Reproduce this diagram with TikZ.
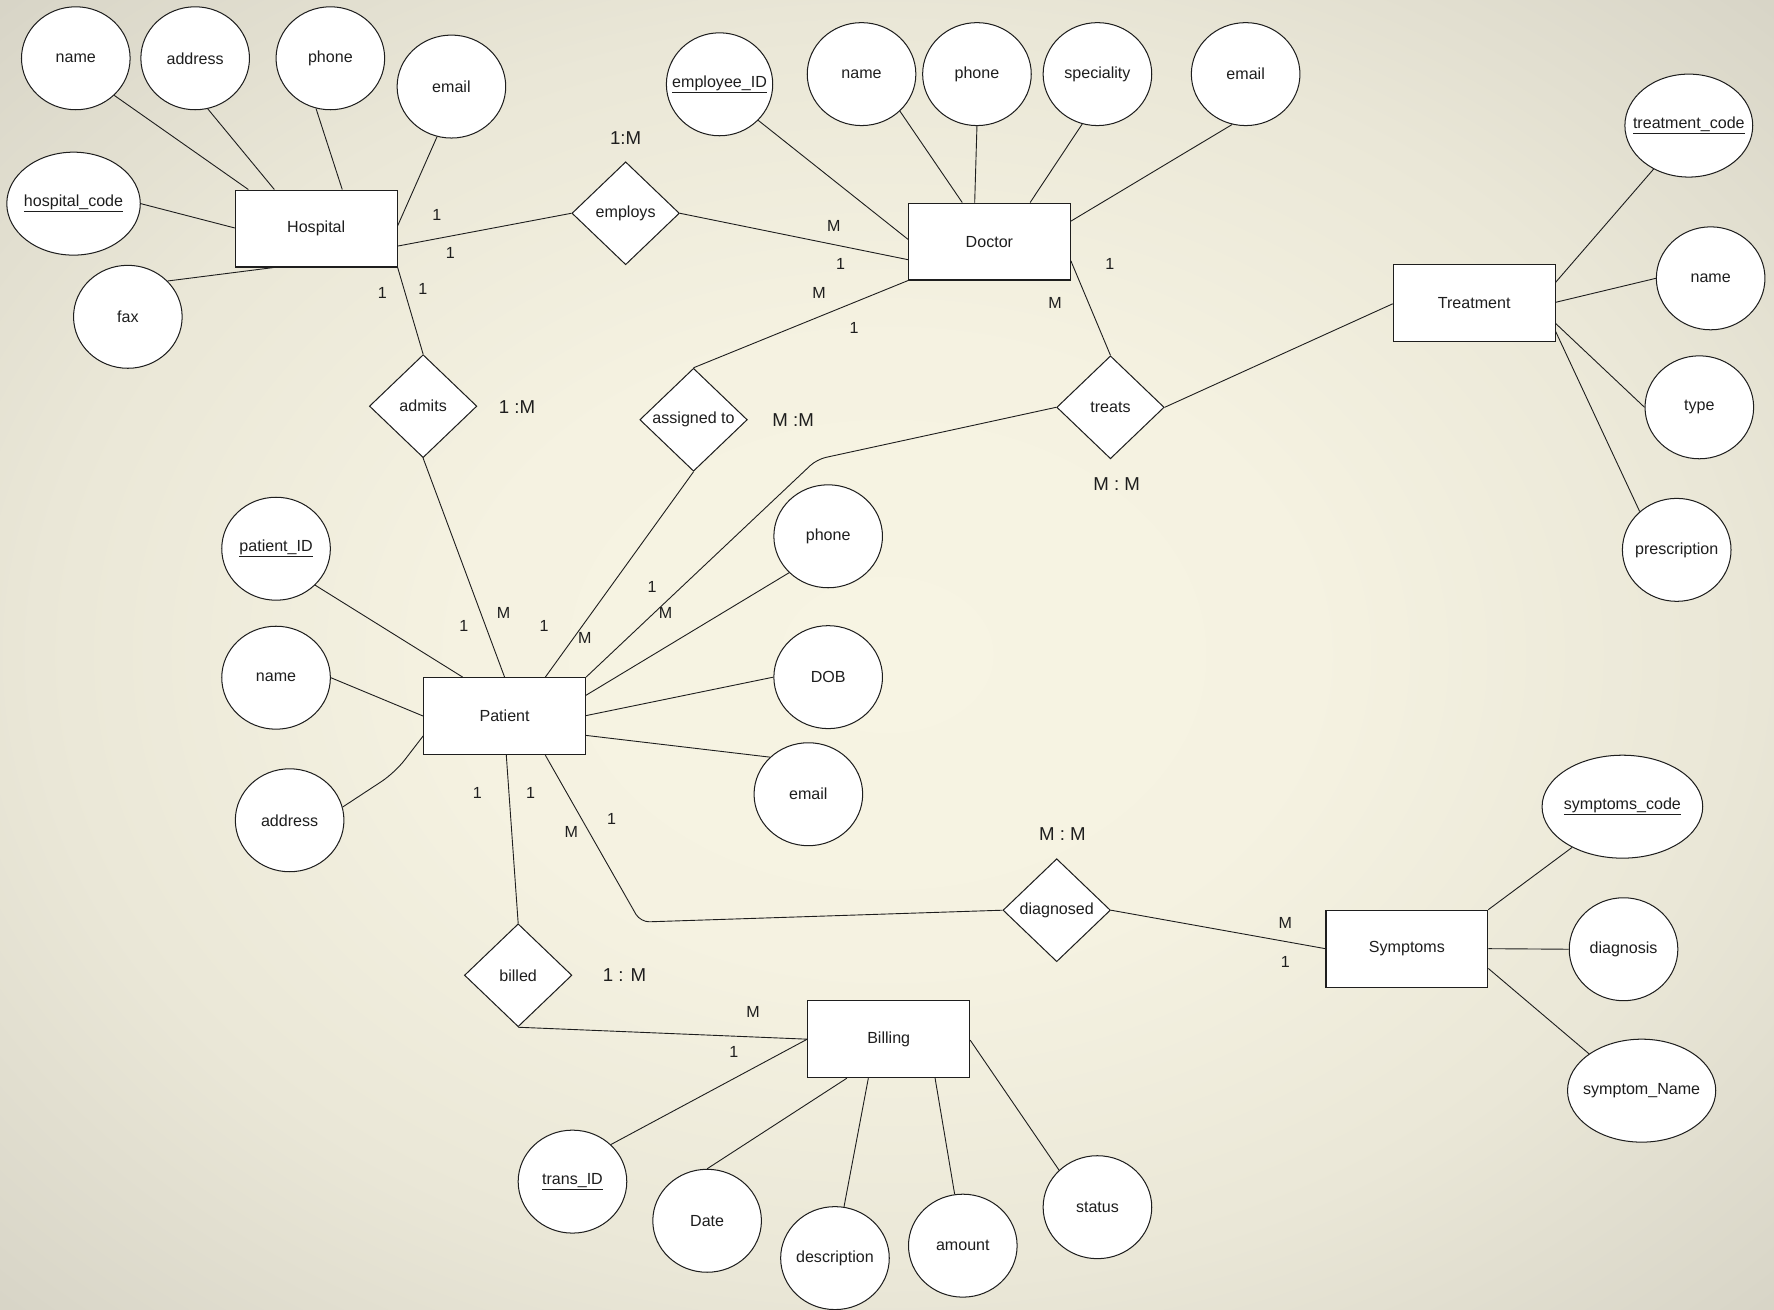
\documentclass[tikz,border=0pt]{standalone}
\usepackage{fontspec}
\setmainfont{Liberation Sans}
\usetikzlibrary{shapes.geometric,calc}
\definecolor{bgc0}{HTML}{F7F4E3}
\definecolor{bgc1}{HTML}{F5F2E1}
\definecolor{bgc2}{HTML}{EAE7D7}
\definecolor{bgc3}{HTML}{DAD7C9}
\definecolor{bgc4}{HTML}{CAC7BA}
\definecolor{bgc5}{HTML}{B9B6AA}
\definecolor{bgc6}{HTML}{A8A599}
\definecolor{bgc7}{HTML}{9C998D}
\definecolor{ink}{HTML}{1E1E1E}
\pgfdeclareradialshading{bgrad}{\pgfpoint{0bp}{0bp}}{color(0bp)=(bgc0); color(12bp)=(bgc1); color(24bp)=(bgc2); color(34bp)=(bgc3); color(43bp)=(bgc4); color(51bp)=(bgc5); color(61bp)=(bgc6); color(71bp)=(bgc7)}
\begin{document}
\begin{tikzpicture}[x=1pt,y=-1pt,
  every node/.style={font=\fontsize{14.2}{16}\selectfont, text=ink},
  ent/.style={draw=ink, line width=1pt, fill=white, rectangle, minimum width=143pt, minimum height=68pt, inner sep=0pt},
  attr/.style={draw=ink, line width=0.9pt, fill=white, ellipse, minimum width=96pt, minimum height=91pt, inner xsep=-14pt, inner ysep=0pt},
  rel/.style={draw=ink, line width=0.9pt, fill=white, diamond, minimum width=95pt, minimum height=91pt, inner sep=0pt},
  conn/.style={draw=ink, line width=0.8pt},
  card/.style={inner sep=0pt},
  ratio/.style={font=\fontsize{16.5}{18}\selectfont, inner sep=0pt}
]
\useasboundingbox (0,0) rectangle (1568,1157);
\shade[shading=bgrad] (0,0) rectangle (1568,1157);

% Entities
\node[ent] (hosp) at (279.5,202) {Hospital};
\node[ent] (doc) at (874.5,213.5) {Doctor};
\node[ent] (treat) at (1303,268) {Treatment};
\node[ent] (pat) at (446,633) {Patient};
\node[ent] (symp) at (1243.5,838.5) {Symptoms};
\node[ent] (bill) at (785.5,918.5) {Billing};

% Relationships
\node[rel] (employs) at (553,188.5) {employs};
\node[rel] (admits) at (374,359) {admits};
\node[rel] (assigned) at (613,371) {assigned to};
\node[rel] (treats) at (981.5,360) {treats};
\node[rel] (diagnosed) at (934,804.5) {diagnosed};
\node[rel] (billed) at (458,862) {billed};

% Hospital attributes
\node[attr] (hname) at (67,51.5) {name};
\node[attr] (haddr) at (172.5,51.5) {address};
\node[attr] (hphone) at (292,51.5) {phone};
\node[attr] (hemail) at (399,76.5) {email};
\node[attr, minimum width=118pt] (hcode) at (65,180) {\underline{hospital\_code}};
\node[attr] (hfax) at (113,280) {fax};

% Doctor attributes
\node[attr, minimum width=94pt] (empid) at (636,74.5) {\underline{employee\_ID}};
\node[attr] (dname) at (761.5,65.5) {name};
\node[attr] (dphone) at (863.5,65.5) {phone};
\node[attr] (spec) at (970,65.5) {speciality};
\node[attr] (demail) at (1101,65.5) {email};

% Treatment attributes
\node[attr, minimum width=113pt] (tcode) at (1492.7,111) {\underline{treatment\_code}};
\node[attr] (tname) at (1512,246) {name};
\node[attr] (ttype) at (1502,360) {type};
\node[attr] (presc) at (1482,486) {prescription};

% Patient attributes
\node[attr] (pid) at (244,485) {\underline{patient\_ID}};
\node[attr] (pname) at (244,599) {name};
\node[attr] (paddr) at (256,725) {address};
\node[attr] (pphone) at (732,474) {phone};
\node[attr] (dob) at (732,598.5) {DOB};
\node[attr] (pemail) at (714.5,702) {email};

% Symptoms attributes
\node[attr, minimum width=142pt] (scode) at (1434,713) {\underline{symptoms\_code}};
\node[attr] (diag) at (1435,839) {diagnosis};
\node[attr, minimum width=131pt] (sname) at (1451,964) {symptom\_Name};

% Billing attributes
\node[attr] (trans) at (506,1044.4) {\underline{trans\_ID}};
\node[attr] (date) at (625,1079) {Date};
\node[attr] (desc) at (738,1112) {description};
\node[attr] (amount) at (851,1101) {amount};
\node[attr] (status) at (970,1067) {status};

% bends
\coordinate (bendT) at (722,406);
\coordinate (bendD) at (566,815);
\coordinate (bendA) at (349,683);

% Hospital connectors
\draw[conn] (hname.-44) -- ($(hosp.north west)+(12,0)$);
\draw[conn] (haddr.-76) -- ($(hosp.north west)+(35,0)$);
\draw[conn] (hphone.254) -- ($(hosp.north west)+(95,0)$);
\draw[conn] (hemail.254) -- ($(hosp.north east)+(0,32)$);
\draw[conn] (hcode.east) -- ($(hosp.north west)+(0,34)$);
\draw[conn] (hfax.42) -- ($(hosp.south west)+(34,0)$);
\draw[conn] ($(hosp.north east)+(0,50)$) -- (employs.west);
\draw[conn] (hosp.south east) -- (admits.north);

% Doctor connectors
\draw[conn] (empid.-43) -- ($(doc.north west)+(0,32.5)$);
\draw[conn] (dname.-44) -- ($(doc.north west)+(48,0)$);
\draw[conn] (dphone.south) -- ($(doc.north west)+(59,0)$);
\draw[conn] (spec.253) -- ($(doc.north west)+(108,0)$);
\draw[conn] (demail.255) -- ($(doc.north east)+(0,16.5)$);
\draw[conn] (employs.east) -- ($(doc.north west)+(0,50.5)$);
\draw[conn] (doc.south west) -- (assigned.north);
\draw[conn] ($(doc.north east)+(0,51.5)$) -- (treats.north);

% Treatment connectors
\draw[conn] (tcode.231) -- ($(treat.north east)+(0,16)$);
\draw[conn] (tname.west) -- ($(treat.north east)+(0,33.7)$);
\draw[conn] (ttype.west) -- ($(treat.north east)+(0,52.4)$);
\draw[conn] (presc.134) -- ($(treat.north east)+(0,59.5)$);
\draw[conn] (treats.east) -- ($(treat.north west)+(0,35)$);

% Patient connectors
\draw[conn] (pid.-43) -- ($(pat.north west)+(35,0)$);
\draw[conn] (pname.east) -- ($(pat.north west)+(0,34.4)$);
\draw[conn, rounded corners=14pt] (paddr.14) -- (bendA) -- ($(pat.north west)+(0,52)$);
\draw[conn] (pphone.223) -- ($(pat.north east)+(0,16)$);
\draw[conn] (dob.west) -- ($(pat.north east)+(0,34)$);
\draw[conn] (pemail.136) -- ($(pat.north east)+(0,51.5)$);
\draw[conn] (admits.south) -- (pat.north);
\draw[conn] (assigned.south) -- ($(pat.north west)+(108,0)$);
\draw[conn, rounded corners=8pt] (pat.north east) -- (bendT) -- (treats.west);
\draw[conn] ($(pat.south west)+(73.5,0)$) -- (billed.north);
\draw[conn, rounded corners=8pt] ($(pat.south west)+(108,0)$) -- (bendD) -- (diagnosed.west);

% Symptoms connectors
\draw[conn] (scode.219) -- (symp.north east);
\draw[conn] (diag.west) -- (symp.east);
\draw[conn] (sname.145) -- ($(symp.north east)+(0,52)$);
\draw[conn] (diagnosed.east) -- (symp.west);

% Billing connectors
\draw[conn] (billed.south) -- (bill.west);
\draw[conn] (trans.44) -- (bill.west);
\draw[conn] (date.north) -- ($(bill.south west)+(35,0)$);
\draw[conn] (desc.80) -- ($(bill.south west)+(54,0)$);
\draw[conn] (amount.99) -- ($(bill.south west)+(113,0)$);
\draw[conn] (status.136) -- ($(bill.north east)+(0,35.3)$);

% Cardinality labels
\node[card] (c01) at (386,190) {1};
\node[card] (c02) at (398,224) {1};
\node[card] (c03) at (737,199.5) {M};
\node[card] (c04) at (743,233) {1};
\node[card] (c05) at (724,259) {M};
\node[card] (c06) at (755,290) {1};
\node[card] (c07) at (981,233) {1};
\node[card] (c08) at (932.6,267.5) {M};
\node[card] (c09) at (338,258.7) {1};
\node[card] (c10) at (373.8,255.7) {1};
\node[card] (c11) at (410,553) {1};
\node[card] (c12) at (445,541.5) {M};
\node[card] (c13) at (481,553) {1};
\node[card] (c14) at (517,564) {M};
\node[card] (c15) at (576.3,518.5) {1};
\node[card] (c16) at (588.3,541.5) {M};
\node[card] (c17) at (422,701) {1};
\node[card] (c18) at (469,701) {1};
\node[card] (c19) at (505,735) {M};
\node[card] (c20) at (540.6,724) {1};
\node[card] (c21) at (1136,815.5) {M};
\node[card] (c22) at (1136,850) {1};
\node[card] (c23) at (665.6,894.5) {M};
\node[card] (c24) at (648.7,929.5) {1};

% Ratio labels
\node[ratio] (r1) at (553,122) {1:M};
\node[ratio] (r2) at (457,360) {1 :M};
\node[ratio] (r3) at (701,371) {M :M};
\node[ratio] (r4) at (987,428) {M : M};
\node[ratio] (r5) at (939,737) {M : M};
\node[ratio] (r6) at (552,862) {1 : M};
\end{tikzpicture}
\end{document}
